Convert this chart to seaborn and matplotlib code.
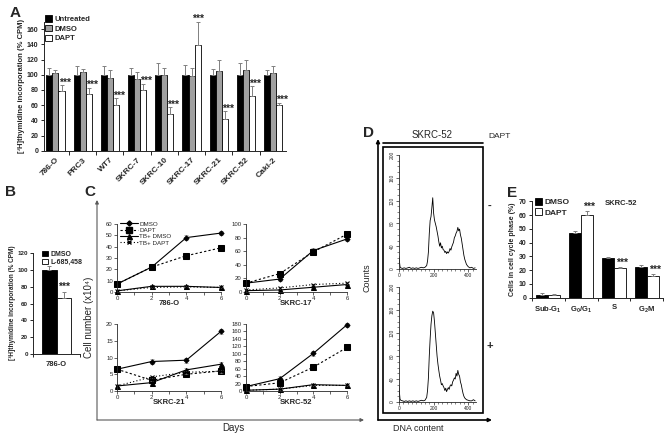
import matplotlib
matplotlib.use("Agg")
import matplotlib.pyplot as plt
from matplotlib.patches import Patch, Rectangle
from matplotlib.lines import Line2D
import seaborn as sns
import pandas as pd
import numpy as np

W, H = 665, 436

# Panel A: [3H]thymidine incorporation per cell line
cell_lines = ["786-O", "PRC3", "WT7", "SKRC-7", "SKRC-10", "SKRC-17", "SKRC-21", "SKRC-52", "Caki-2"]
a_untreated = [100, 100, 100, 100, 100, 100, 100, 100, 100]
a_untreated_err = [9, 11, 12, 9, 15, 13, 8, 15, 7]
a_dmso = [102, 104, 96, 94, 100, 99, 105, 106, 103]
a_dmso_err = [5, 4, 10, 10, 9, 10, 14, 14, 8]
a_dapt = [79, 75, 60, 80, 48, 139, 42, 72, 60]
a_dapt_err = [7, 8, 9, 8, 9, 31, 10, 13, 3]

# Panel B: 786-O, DMSO vs L-685,458
b_groups = ["DMSO", "L-685,458"]
b_values = [100, 67]
b_err = [4, 7]

# Panel C: growth curves (cell number x10^4)
c_days = [0, 2, 4, 6]
c_treat = ["DMSO", "DAPT", "TB+ DMSO", "TB+ DAPT"]
c786_dmso = [7, 22, 48, 52]
c786_dapt = [7, 22, 32, 39]
c786_tb_dmso = [1, 5, 5, 4]
c786_tb_dapt = [1, 4, 4.5, 4]
c17_dmso = [13, 19, 61, 78]
c17_dapt = [13, 27, 59, 85]
c17_tb_dmso = [2, 3, 7, 11]
c17_tb_dapt = [3, 6, 11, 13]
c21_dmso = [6.5, 8.8, 9.2, 17.8]
c21_dapt = [6.5, 3.2, 5.0, 6.0]
c21_tb_dmso = [1.5, 2.5, 6.3, 8.0]
c21_tb_dapt = [1.5, 4.2, 5.6, 5.9]
c52_dmso = [12, 33, 101, 178]
c52_dapt = [12, 22, 64, 117]
c52_tb_dmso = [2, 5, 17, 15]
c52_tb_dapt = [2, 5, 15, 15]
c786_err = [2, 2, 0.8, 0.5]
c17_err = [3, 3, 1, 1]
c21_err = [0.8, 0.6, 0.6, 0.4]
c52_err = [6, 4, 2, 2]

# Panel D: DNA content histograms, SKRC-52 -/+ DAPT
d_dna = [0, 3, 6, 10,
         20, 30, 40, 50, 60, 70, 80, 90, 100, 110, 120, 130, 140, 150,
         160, 165, 170, 175, 180, 185, 190, 195, 200, 205,
         210, 215, 220, 225, 230, 235, 240, 245, 250, 255,
         260, 265, 270, 275, 280, 285, 290, 295, 300, 305,
         310, 315, 320, 325, 330, 335, 340, 345, 350, 355,
         360, 365, 370, 375, 380,
         390, 400, 410, 420, 430, 440]
d_minus = [22, 12, 4, 2,
           1, 2, 1, 2, 3, 1, 2, 1, 2, 1, 2, 3, 2, 3,
           6, 14, 30, 62, 85, 92, 108, 125, 98, 86,
           80, 74, 66, 58, 48, 40, 46, 37, 40, 34,
           33, 29, 31, 27, 30, 28, 31, 36, 33, 39,
           43, 47, 55, 58, 63, 66, 73, 67, 70, 60,
           54, 44, 34, 24, 17,
           8, 4, 2, 3, 1, 2]
d_plus = [28, 15, 5, 3,
          2, 1, 2, 1, 2, 1, 2, 1, 2, 1, 2, 3, 2, 3,
          8, 20, 42, 80, 110, 135, 150, 158, 155, 140,
          120, 100, 80, 66, 55, 45, 38, 30, 32, 28,
          25, 20, 24, 18, 22, 25, 22, 28, 30, 28,
          35, 38, 42, 40, 50, 45, 55, 48, 45, 35,
          30, 22, 15, 10, 7,
          4, 3, 2, 2, 4, 2]

# Panel E: cell cycle phases
e_phases = ["Sub-G$_1$", "G$_0$/G$_1$", "S", "G$_2$M"]
e_dmso = [1.8, 47, 28.5, 22.5]
e_dmso_err = [1.2, 1.5, 1.2, 1.5]
e_dapt = [1.6, 60, 21.5, 16]
e_dapt_err = [1.0, 3, 1.0, 1.5]

sns.set_style("ticks")
plt.rcParams["font.family"] = ["Liberation Sans", "DejaVu Sans"]
plt.rcParams["mathtext.fontset"] = "custom"
plt.rcParams["mathtext.rm"] = "Liberation Sans"
plt.rcParams["mathtext.bf"] = "Liberation Sans:bold"
plt.rcParams["mathtext.default"] = "regular"
plt.rcParams["axes.linewidth"] = 0.7


def box(l, t, r, b):
    return [l / W, 1 - b / H, (r - l) / W, (b - t) / H]


def draw_bars(ax, cats, names, vals, errs, colors, width):
    df = pd.DataFrame({
        "cat": [c for _ in names for c in cats],
        "grp": [n for n in names for _ in cats],
        "val": [v for vs in vals for v in vs],
    })
    sns.barplot(data=df, x="cat", y="val", hue="grp", order=cats, hue_order=names,
                palette=dict(zip(names, colors)), width=width, saturation=1,
                edgecolor="black", linewidth=0.6, errorbar=None, legend=False, ax=ax)
    bar_sets = list(ax.containers)
    for cont, err in zip(bar_sets, errs):
        xs = [p.get_x() + p.get_width() / 2 for p in cont]
        hs = [p.get_height() for p in cont]
        ax.errorbar(xs, hs, yerr=[[0] * len(err), err], fmt="none", ecolor="#808080",
                    elinewidth=0.7, capsize=1.6, capthick=0.7, clip_on=False)
    ax.set_xlabel("")
    ax.set_ylabel("")
    sns.despine(ax=ax)
    return bar_sets[-1]


def bold_ticks(ax):
    for lab in ax.get_xticklabels() + ax.get_yticklabels():
        lab.set_fontweight("bold")


fig = plt.figure(figsize=(W / 100, H / 100), dpi=100)
# overlay in pixel coordinates for frames, axis titles and panel letters
over = fig.add_axes([0, 0, 1, 1])
over.set_xlim(0, W)
over.set_ylim(H, 0)
over.axis("off")
over.set_zorder(10)

# ---------------- A ----------------
axA = fig.add_axes(box(44, 21.7, 286, 150.7))
whiteA = draw_bars(axA, cell_lines, ["Untreated", "DMSO", "DAPT"],
                   [a_untreated, a_dmso, a_dapt], [a_untreated_err, a_dmso_err, a_dapt_err],
                   ["black", "#a0a0a0", "white"], 0.67)
axA.set_xlim(-0.42, 8.47)
axA.set_ylim(0, 170)
axA.set_yticks(range(0, 161, 20))
axA.set_xticks(range(len(cell_lines)))
axA.set_xticklabels(cell_lines, rotation=45, ha="right", rotation_mode="anchor", fontsize=6)
axA.set_xticks(np.arange(0.5, 8.5, 1), minor=True)
axA.tick_params(axis="x", which="major", length=0, pad=4)
axA.tick_params(axis="x", which="minor", length=3, width=0.7)
axA.tick_params(axis="y", length=2.5, width=0.7, labelsize=5, pad=1.5)
bold_ticks(axA)
for i, p in enumerate(whiteA):
    cx = p.get_x() + p.get_width() / 2
    if a_dapt[i] > 100:
        axA.text(cx, a_dapt[i] + a_dapt_err[i] + 4, "***", ha="center", va="center",
                 fontsize=7.5, fontweight="bold", clip_on=False)
    else:
        axA.text(cx + p.get_width() * 0.5, a_dapt[i] + a_dapt_err[i] + 3.5, "***",
                 ha="center", va="center", fontsize=7.5, fontweight="bold")
axA.legend(handles=[Patch(facecolor=c, edgecolor="black", lw=0.6) for c in ["black", "#a0a0a0", "white"]],
           labels=["Untreated", "DMSO", "DAPT"], loc="upper left", bbox_to_anchor=(0.004, 1.05),
           frameon=False, prop={"size": 5.5, "weight": "bold"}, handlelength=0.9, handleheight=0.9,
           handletextpad=0.3, labelspacing=0.25, borderpad=0, borderaxespad=0)
over.text(22, 86, "[³H]thymidine incorporation (% CPM)", rotation=90, ha="center", va="center",
          fontsize=5.5, fontweight="bold")

# ---------------- B ----------------
axB = fig.add_axes(box(33, 253, 80, 354))
bvals = [[b_values[0]], [b_values[1]]]
whiteB = draw_bars(axB, ["786-O"], b_groups, bvals, [[b_err[0]], [b_err[1]]], ["black", "white"], 0.62)
axB.set_xlim(-0.5, 0.5)
axB.set_ylim(0, 120)
axB.set_yticks(range(0, 121, 20))
axB.set_xticks([-0.5, 0.5], minor=True)
axB.tick_params(axis="x", which="major", length=0, labelsize=5.5, pad=5)
axB.tick_params(axis="x", which="minor", length=2.5, width=0.7)
axB.tick_params(axis="y", length=2.5, width=0.7, labelsize=4.5, pad=1.2)
bold_ticks(axB)
for p in whiteB:
    axB.text(p.get_x() + p.get_width() / 2, b_values[1] + b_err[1] + 6, "***", ha="center",
             va="center", fontsize=7.5, fontweight="bold")
axB.legend(handles=[Patch(facecolor=c, edgecolor="black", lw=0.6) for c in ["black", "white"]],
           labels=b_groups, loc="upper left", bbox_to_anchor=(0.2, 1.02), frameon=False,
           prop={"size": 5, "weight": "bold"}, handlelength=0.8, handleheight=0.8,
           handletextpad=0.3, labelspacing=0.1, borderpad=0, borderaxespad=0)
over.text(13, 303, "[³H]thymidine incorporation (% CPM)", rotation=90, ha="center", va="center",
          fontsize=4.7, fontweight="bold")

# ---------------- C ----------------
styles = {
    "DMSO": dict(marker="D", markersize=2.6, linestyle="-"),
    "DAPT": dict(marker="s", markersize=4.2, linestyle=(0, (2, 2))),
    "TB+ DMSO": dict(marker="^", markersize=3.6, linestyle="-"),
    "TB+ DAPT": dict(marker="x", markersize=3, linestyle=(0, (1, 2))),
}
c_panels = [
    ("786-O", (117, 224, 221, 292), 60, 10, [c786_dmso, c786_dapt, c786_tb_dmso, c786_tb_dapt], c786_err),
    ("SKRC-17", (246, 224, 347, 292), 100, 20, [c17_dmso, c17_dapt, c17_tb_dmso, c17_tb_dapt], c17_err),
    ("SKRC-21", (117, 324, 221, 391), 20, 5, [c21_dmso, c21_dapt, c21_tb_dmso, c21_tb_dapt], c21_err),
    ("SKRC-52", (246, 324, 347, 391), 180, 20, [c52_dmso, c52_dapt, c52_tb_dmso, c52_tb_dapt], c52_err),
]
for k, (name, rc, ymax, ystep, series, errs) in enumerate(c_panels):
    ax = fig.add_axes(box(*rc))
    for t, vals, e in zip(c_treat, series, errs):
        ax.errorbar(c_days[1:], vals[1:], yerr=e, fmt="none", ecolor="#8a8a8a", elinewidth=0.5,
                    capsize=1.2, capthick=0.5, clip_on=False)
        sns.lineplot(x=c_days, y=vals, ax=ax, color="black", lw=0.8, clip_on=False,
                     markeredgecolor="black", **styles[t])
    ax.set_xlim(0, 6)
    ax.set_ylim(0, ymax)
    ax.set_xticks([0, 2, 4, 6])
    ax.set_xticks([1, 3, 5], minor=True)
    ax.set_yticks(range(0, ymax + 1, ystep))
    ax.tick_params(axis="both", which="both", length=2, width=0.5, labelsize=4.3, pad=1)
    for s in ax.spines.values():
        s.set_linewidth(0.6)
    sns.despine(ax=ax)
    ax.text(0.5, -0.17, name, transform=ax.transAxes, ha="center", va="center",
            fontsize=5.5, fontweight="bold")
    if k == 0:
        handles = [Line2D([], [], color="black", lw=0.8, **styles[t]) for t in c_treat]
        ax.legend(handles, c_treat, loc="upper left", bbox_to_anchor=(0.03, 1.04), frameon=False,
                  fontsize=4.5, handlelength=2.8, handletextpad=0.3, labelspacing=0.15,
                  borderpad=0, borderaxespad=0)

over.annotate("", xy=(97, 200), xytext=(97, 420),
              arrowprops=dict(arrowstyle="-|>", lw=0.8, color="0.35", mutation_scale=5, shrinkA=0, shrinkB=0))
over.annotate("", xy=(364, 420), xytext=(97, 420),
              arrowprops=dict(arrowstyle="-|>", lw=0.8, color="0.35", mutation_scale=5, shrinkA=0, shrinkB=0))
over.text(89, 317, "Cell number (x10⁴)", rotation=90, ha="center", va="center", fontsize=7)
over.text(233, 428, "Days", ha="center", va="center", fontsize=7)

# ---------------- D ----------------
for rc, counts in [((399, 155, 476, 269), d_minus), ((399, 287, 476, 402), d_plus)]:
    ax = fig.add_axes(box(*rc))
    sns.lineplot(x=d_dna, y=counts, ax=ax, color="black", lw=0.6)
    ax.set_xlim(0, 445)
    ax.set_ylim(0, 200)
    ax.set_xticks([0, 200, 400])
    ax.set_xticks(range(0, 441, 25), minor=True)
    ax.set_yticks(range(0, 201, 40))
    ax.set_yticks(range(0, 201, 10), minor=True)
    ax.tick_params(axis="both", which="major", length=2, width=0.5, labelsize=3.5, pad=1)
    ax.tick_params(axis="both", which="minor", length=1.2, width=0.4)
    ax.tick_params(axis="y", labelrotation=90)
    for lab in ax.get_yticklabels():
        lab.set_va("center")
    for s in ax.spines.values():
        s.set_linewidth(0.6)
    sns.despine(ax=ax)

over.add_patch(Rectangle((383, 147), 100, 266, fill=False, lw=1.2, edgecolor="black"))
over.plot([383, 483], [143, 143], color="black", lw=1.2)
over.annotate("", xy=(378, 139), xytext=(378, 420),
              arrowprops=dict(arrowstyle="-|>", lw=1.2, color="black", mutation_scale=5, shrinkA=0, shrinkB=0))
over.annotate("", xy=(492, 420), xytext=(378, 420),
              arrowprops=dict(arrowstyle="-|>", lw=1.2, color="black", mutation_scale=5, shrinkA=0, shrinkB=0))
over.text(432, 135, "SKRC-52", ha="center", va="center", fontsize=7)
over.text(488, 136, "DAPT", ha="left", va="center", fontsize=6)
over.text(490, 206, "-", ha="center", va="center", fontsize=8, fontweight="bold")
over.text(490, 346, "+", ha="center", va="center", fontsize=8, fontweight="bold")
over.text(367, 278, "Counts", rotation=90, ha="center", va="center", fontsize=6.5)
over.text(418, 428, "DNA content", ha="center", va="center", fontsize=6.5)

# ---------------- E ----------------
axE = fig.add_axes(box(532, 201.5, 663, 297.5))
whiteE = draw_bars(axE, e_phases, ["DMSO", "DAPT"], [e_dmso, e_dapt], [e_dmso_err, e_dapt_err],
                   ["black", "white"], 0.73)
axE.set_xlim(-0.5, 3.5)
axE.set_ylim(0, 70)
axE.set_yticks(range(0, 71, 10))
axE.set_xticks(np.arange(-0.5, 3.6, 1), minor=True)
axE.tick_params(axis="x", which="major", length=0, labelsize=5.5, pad=5)
axE.tick_params(axis="x", which="minor", length=2.5, width=0.7)
axE.tick_params(axis="y", length=2.5, width=0.7, labelsize=5, pad=1.5)
bold_ticks(axE)
for i, p in enumerate(whiteE):
    if i == 0:
        continue
    axE.text(p.get_x() + p.get_width() * 0.7, e_dapt[i] + e_dapt_err[i] + 3, "***", ha="center",
             va="center", fontsize=7.5, fontweight="bold")
axE.legend(handles=[Patch(facecolor=c, edgecolor="black", lw=0.6) for c in ["black", "white"]],
           labels=["DMSO", "DAPT"], loc="upper left", bbox_to_anchor=(0.02, 1.04), frameon=False,
           prop={"size": 6, "weight": "bold"}, handlelength=0.9, handleheight=0.9,
           handletextpad=0.3, labelspacing=0.3, borderpad=0, borderaxespad=0)
over.text(621, 203, "SKRC-52", ha="center", va="center", fontsize=5.5, fontweight="bold")
over.text(512, 249, "Cells in cell cycle phase (%)", rotation=90, ha="center", va="center",
          fontsize=5, fontweight="bold")

# panel letters
for letter, (x, y) in {"A": (15, 13), "B": (10, 192), "C": (90, 192), "D": (368, 133), "E": (512, 193)}.items():
    over.text(x, y, letter, ha="center", va="center", fontsize=11, fontweight="bold")

fig.savefig("out.png", dpi=100)
